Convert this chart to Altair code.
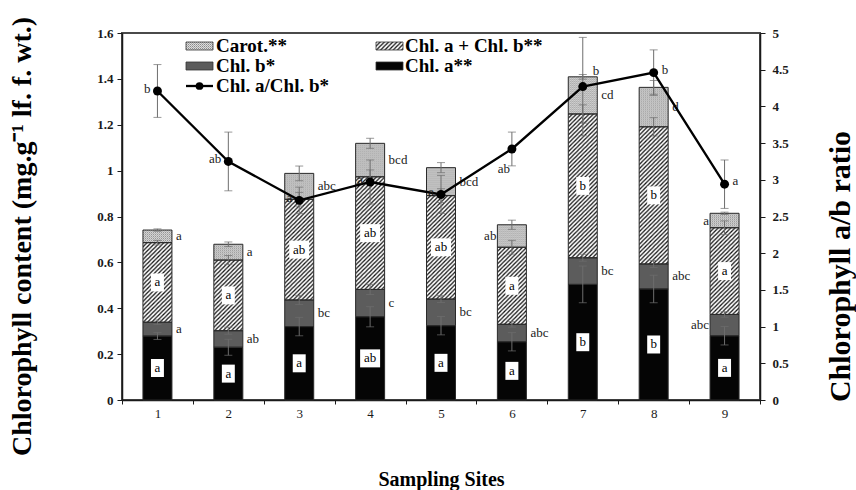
import urllib.parse
import altair as alt
import pandas as pd

# ---------------- data ----------------
sites = ["1", "2", "3", "4", "5", "6", "7", "8", "9"]
chl_a = [0.279, 0.230, 0.320, 0.363, 0.324, 0.254, 0.504, 0.484, 0.280]
chl_b = [0.060, 0.072, 0.116, 0.119, 0.116, 0.076, 0.116, 0.109, 0.093]
chl_ab = [0.347, 0.308, 0.439, 0.491, 0.451, 0.336, 0.627, 0.598, 0.378]
carot = [0.055, 0.069, 0.113, 0.146, 0.122, 0.098, 0.162, 0.172, 0.063]
ratio = [4.21, 3.25, 2.72, 2.97, 2.80, 3.42, 4.27, 4.46, 2.94]

chl_a_err = [0.015, 0.035, 0.040, 0.044, 0.040, 0.040, 0.080, 0.060, 0.040]
chl_b_err = [0.010, 0.015, 0.020, 0.022, 0.015, 0.012, 0.015, 0.015, 0.012]
chl_ab_err = [0.010, 0.020, 0.030, 0.030, 0.030, 0.030, 0.040, 0.040, 0.030]
carot_err = [0.005, 0.010, 0.032, 0.022, 0.022, 0.020, 0.010, 0.030, 0.005]
ratio_err = [0.36, 0.40, 0.18, 0.30, 0.26, 0.23, 0.67, 0.31, 0.33]

chl_a_let = ["a", "a", "a", "ab", "a", "a", "b", "b", "a"]
chl_b_let = ["a", "ab", "bc", "c", "bc", "abc", "bc", "abc", "abc"]
chl_ab_let = ["a", "a", "ab", "ab", "ab", "a", "b", "b", "a"]
carot_let = ["a", "a", "abc", "bcd", "bcd", "ab", "cd", "d", "a"]
ratio_let = ["b", "ab", "a", "a", "a", "ab", "b", "b", "a"]

chl_b_side = ["right"] * 8 + ["left"]
carot_side = ["right"] * 5 + ["left", "right", "right", "left"]
ratio_side = ["left"] * 5 + ["below", "above", "right", "right"]

segments = ["Chl. a", "Chl. b", "Chl. a + Chl. b", "Carot."]
seg_colors = ["#050505", "#5c5c5c", "#9a9a9a", "#c2c2c2"]

SERIF = "Liberation Serif"
INK = "#1a1a1a"
ERR = "#6e6e6e"

# ---------------- pattern fills (SVG tiles) ----------------
hatch_svg = (
    "<svg xmlns='http://www.w3.org/2000/svg'><defs>"
    "<pattern id='p' width='4.2' height='4.2' patternUnits='userSpaceOnUse'>"
    "<rect width='4.2' height='4.2' fill='white'/>"
    "<path d='M-1.05,1.05L1.05,-1.05M0,4.2L4.2,0M3.15,5.25L5.25,3.15' "
    "stroke='#111' stroke-width='1.25'/></pattern></defs>"
    "<rect width='100%' height='100%' fill='url(#p)'/></svg>"
)
dots_svg = (
    "<svg xmlns='http://www.w3.org/2000/svg'><defs>"
    "<pattern id='d' width='2' height='2' patternUnits='userSpaceOnUse'>"
    "<rect width='2' height='2' fill='#dedede'/>"
    "<rect width='1' height='1' fill='#8a8a8a'/>"
    "<rect x='1' y='1' width='1' height='1' fill='#ababab'/></pattern></defs>"
    "<rect width='100%' height='100%' fill='url(#d)'/></svg>"
)
HATCH = "data:image/svg+xml," + urllib.parse.quote(hatch_svg)
DOTS = "data:image/svg+xml," + urllib.parse.quote(dots_svg)

# ---------------- tables ----------------
rows = []
for i, s in enumerate(sites):
    base = 0.0
    for seg, vals, errs, lets, side in [
        ("Chl. a", chl_a, chl_a_err, chl_a_let, "in"),
        ("Chl. b", chl_b, chl_b_err, chl_b_let, chl_b_side[i]),
        ("Chl. a + Chl. b", chl_ab, chl_ab_err, chl_ab_let, "in"),
        ("Carot.", carot, carot_err, carot_let, carot_side[i]),
    ]:
        top = base + vals[i]
        rows.append(dict(site=s, seg=seg, y0=base, y1=top, mid=base + vals[i] / 2,
                         lo=top - errs[i], hi=top + errs[i], letter=lets[i], side=side))
        base = top
seg_df = pd.DataFrame(rows)

ratio_df = pd.DataFrame(dict(site=sites, ratio=ratio,
                             lo=[r - e for r, e in zip(ratio, ratio_err)],
                             hi=[r + e for r, e in zip(ratio, ratio_err)],
                             letter=ratio_let, side=ratio_side))

BAR_W = 29
xs = alt.Scale(domain=sites, paddingInner=0, paddingOuter=0)
yL = alt.Scale(domain=[0, 1.6], nice=False)
yR = alt.Scale(domain=[0, 5], nice=False)

x_axis = alt.Axis(title="Sampling Sites", labelAngle=0, tickBand="extent",
                  labelFont=SERIF, labelFontSize=13, labelColor=INK,
                  labelPadding=3, tickSize=4, tickColor=INK,
                  domainColor=INK, domainWidth=1.5,
                  titleFont=SERIF, titleFontSize=20, titleFontWeight="bold",
                  titleColor="black", titleX=319, titleY=85,
                  titleBaseline="alphabetic", titleAnchor="middle")
yl_axis = alt.Axis(title="Chlorophyll content (mg.g\u207b\u00b9 lf. f. wt.)",
                   values=[0, 0.2, 0.4, 0.6, 0.8, 1.0, 1.2, 1.4, 1.6], format="~g",
                   grid=False, labelFont=SERIF, labelFontSize=13, labelFontWeight="bold",
                   labelColor=INK, labelPadding=4, tickSize=5, tickColor=INK,
                   domainColor=INK, domainWidth=1.5, orient="left",
                   titleFont=SERIF, titleFontSize=28, titleFontWeight="bold",
                   titleColor="black", titleAngle=270, titleX=-92, titleY=203,
                   titleBaseline="alphabetic", titleAlign="center")
yr_axis = alt.Axis(title="Chlorophyll a/b ratio", orient="right",
                   values=[0, 0.5, 1, 1.5, 2, 2.5, 3, 3.5, 4, 4.5, 5], format="~g",
                   grid=False, labelFont=SERIF, labelFontSize=13, labelFontWeight="bold",
                   labelColor=INK, labelPadding=7, tickSize=5, tickColor=INK,
                   domainColor=INK, domainWidth=1.5,
                   titleFont=SERIF, titleFontSize=30, titleFontWeight="bold",
                   titleColor="black", titleAngle=270, titleX=89, titleY=233,
                   titleBaseline="alphabetic", titleAlign="center")

X = alt.X("site:N", scale=xs, axis=x_axis)


def YL(field):
    return alt.Y(field, type="quantitative", scale=yL, axis=yl_axis)


def YR(field):
    return alt.Y(field, type="quantitative", scale=yR, axis=yr_axis)


segbase = alt.Chart(seg_df)

bars = segbase.mark_bar(width=BAR_W).encode(
    x=X, y=YL("y1"), y2="y0:Q",
    fill=alt.Fill("seg:N", scale=alt.Scale(domain=segments, range=seg_colors), legend=None),
)
hatch_img = segbase.transform_filter(alt.datum.seg == "Chl. a + Chl. b").mark_image(
    width=BAR_W, aspect=False).encode(x=X, y=YL("y1"), y2="y0:Q", url=alt.value(HATCH))
dots_img = segbase.transform_filter(alt.datum.seg == "Carot.").mark_image(
    width=BAR_W, aspect=False).encode(x=X, y=YL("y1"), y2="y0:Q", url=alt.value(DOTS))
outline = segbase.mark_bar(width=BAR_W, fillOpacity=0, stroke="#2a2a2a", strokeWidth=1).encode(
    x=X, y=YL("y1"), y2="y0:Q")

err_rule = segbase.mark_rule(color=ERR, strokeWidth=1).encode(x=X, y=YL("lo"), y2="hi:Q")
err_lo = segbase.mark_tick(color=ERR, size=8, thickness=1).encode(x=X, y=YL("lo"))
err_hi = segbase.mark_tick(color=ERR, size=8, thickness=1).encode(x=X, y=YL("hi"))

inside = segbase.transform_filter(alt.datum.side == "in").transform_calculate(
    w="length(datum.letter) > 1 ? 'w' : 'n'")
boxes = inside.mark_point(filled=True, fill="white", opacity=1, size=324, strokeWidth=0).encode(
    x=X, y=YL("mid"),
    shape=alt.Shape("w:N", scale=alt.Scale(domain=["n", "w"], range=[
        "M-0.72,-1H0.72V1H-0.72Z", "M-1.11,-1H1.11V1H-1.11Z"]), legend=None))
in_text = inside.mark_text(font=SERIF, fontSize=13, color="black", baseline="middle").encode(
    x=X, y=YL("mid"), text="letter:N")
right_text = segbase.transform_filter(alt.datum.side == "right").mark_text(
    font=SERIF, fontSize=13, color=INK, align="left", baseline="middle", dx=BAR_W / 2 + 4).encode(
    x=X, y=YL("mid"), text="letter:N")
left_text = segbase.transform_filter(alt.datum.side == "left").mark_text(
    font=SERIF, fontSize=13, color=INK, align="right", baseline="middle", dx=-(BAR_W / 2 + 1)).encode(
    x=X, y=YL("mid"), text="letter:N")

left = alt.layer(bars, hatch_img, dots_img, outline, err_rule, err_lo, err_hi,
                 boxes, in_text, right_text, left_text)

rbase = alt.Chart(ratio_df)
r_rule = rbase.mark_rule(color=ERR, strokeWidth=1).encode(x=X, y=YR("lo"), y2="hi:Q")
r_lo = rbase.mark_tick(color=ERR, size=8, thickness=1).encode(x=X, y=YR("lo"))
r_hi = rbase.mark_tick(color=ERR, size=8, thickness=1).encode(x=X, y=YR("hi"))
r_line = rbase.mark_line(color="black", strokeWidth=2.3).encode(x=X, y=YR("ratio"))
r_pts = rbase.mark_circle(color="black", size=80, opacity=1).encode(x=X, y=YR("ratio"))
r_txt_l = rbase.transform_filter(alt.datum.side == "left").mark_text(
    font=SERIF, fontSize=13, color=INK, align="right", baseline="middle", dx=-7, dy=-2).encode(
    x=X, y=YR("ratio"), text="letter:N")
r_txt_r = rbase.transform_filter(alt.datum.side == "right").mark_text(
    font=SERIF, fontSize=13, color=INK, align="left", baseline="middle", dx=8, dy=-3).encode(
    x=X, y=YR("ratio"), text="letter:N")
r_txt_b = rbase.transform_filter(alt.datum.side == "below").mark_text(
    font=SERIF, fontSize=13, color=INK, align="center", baseline="middle", dx=-8, dy=20).encode(
    x=X, y=YR("ratio"), text="letter:N")
r_txt_a = rbase.transform_filter(alt.datum.side == "above").mark_text(
    font=SERIF, fontSize=13, color=INK, align="left", baseline="middle", dx=10, dy=-16).encode(
    x=X, y=YR("ratio"), text="letter:N")

right = alt.layer(r_rule, r_lo, r_hi, r_line, r_pts, r_txt_l, r_txt_r, r_txt_b, r_txt_a)

# ---------------- manual legend ----------------
one = pd.DataFrame({"k": [0]})
lg = alt.Chart(one)
legend_names = ["Carot.**", "Chl. a + Chl. b**", "Chl. b*", "Chl. a**", "Chl. a/Chl. b*"]


def ltext(label, x, y):
    return lg.mark_text(font=SERIF, fontSize=19, fontWeight="bold", color="black",
                        align="left", baseline="middle", text=label).encode(
        x=alt.value(x), y=alt.value(y))


def lswatch_img(url, x, y):
    img = lg.mark_image(aspect=False).encode(
        x=alt.value(x), x2=alt.value(x + 27), y=alt.value(y - 4), y2=alt.value(y + 4),
        url=alt.value(url))
    box = lg.mark_rect(fillOpacity=0, stroke="#333", strokeWidth=0.8).encode(
        x=alt.value(x), x2=alt.value(x + 27), y=alt.value(y - 4), y2=alt.value(y + 4))
    return img + box


def lswatch(color, x, y):
    return lg.mark_rect(fill=color, stroke="#333", strokeWidth=0.8).encode(
        x=alt.value(x), x2=alt.value(x + 27), y=alt.value(y - 4), y2=alt.value(y + 4))


legend = alt.layer(
    lswatch_img(DOTS, 64, 13), ltext(legend_names[0], 94, 13),
    lswatch_img(HATCH, 254, 13), ltext(legend_names[1], 283, 13),
    lswatch(seg_colors[1], 64, 33), ltext(legend_names[2], 94, 33),
    lswatch(seg_colors[0], 254, 33), ltext(legend_names[3], 283, 33),
    lg.mark_rule(color="black", strokeWidth=2.3).encode(
        x=alt.value(64), x2=alt.value(91), y=alt.value(53)),
    lg.mark_circle(color="black", size=60, opacity=1).encode(
        x=alt.value(77.5), y=alt.value(53)),
    ltext(legend_names[4], 94, 53),
)

chart = alt.layer(left, right, legend).resolve_scale(y="independent").properties(
    width=638, height=367,
    autosize=alt.AutoSizeParams(type="none"),
    padding={"left": 122, "top": 33, "right": 96, "bottom": 90},
    background="white",
).configure_view(stroke="#4a4a4a", strokeWidth=2)

chart.save("out.html", embed_options={"renderer": "svg", "actions": False})
